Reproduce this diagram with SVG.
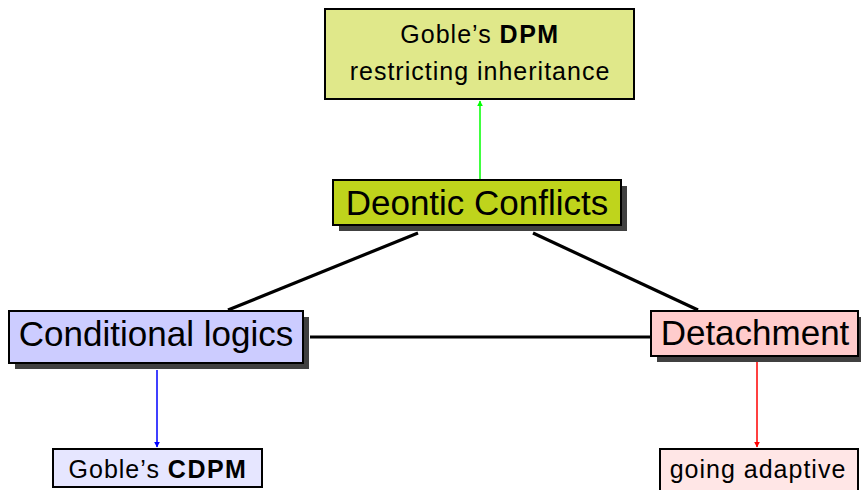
<svg xmlns="http://www.w3.org/2000/svg" width="861" height="490" viewBox="0 0 861 490">
  <style>
    text { font-family: "Liberation Sans", "DejaVu Sans", sans-serif; fill: #000; text-anchor: middle; }
    .box { stroke: #000; stroke-width: 2; }
    .shadow { fill: #404040; }
    .big { font-size: 35px; }
    .small { font-size: 25px; letter-spacing: 1px; }
    .bf { font-weight: bold; letter-spacing: 1.5px; }
    .edge { stroke: #000; stroke-width: 3.2; fill: none; }
  </style>
  <defs>
    <marker id="arrG" viewBox="0 0 10 10" refX="9" refY="5" markerWidth="6" markerHeight="6" orient="auto-start-reverse" markerUnits="userSpaceOnUse"><path d="M0,0 L10,5 L0,10 z" fill="#00ff00"/></marker>
    <marker id="arrB" viewBox="0 0 10 10" refX="9" refY="5" markerWidth="6" markerHeight="6" orient="auto-start-reverse" markerUnits="userSpaceOnUse"><path d="M0,0 L10,5 L0,10 z" fill="#0000ff"/></marker>
    <marker id="arrR" viewBox="0 0 10 10" refX="9" refY="5" markerWidth="6" markerHeight="6" orient="auto-start-reverse" markerUnits="userSpaceOnUse"><path d="M0,0 L10,5 L0,10 z" fill="#ff0000"/></marker>
  </defs>

  <g id="connectors">
    <line class="edge" x1="418" y1="233" x2="228" y2="310"/>
    <line class="edge" x1="533" y1="233" x2="698" y2="310"/>
    <line class="edge" x1="310" y1="337" x2="651" y2="337"/>
    <line x1="480" y1="180" x2="480" y2="101" stroke="#00ff00" stroke-width="1.5" marker-end="url(#arrG)"/>
    <line x1="157" y1="370" x2="157" y2="447" stroke="#0000ff" stroke-width="1.5" marker-end="url(#arrB)"/>
    <line x1="757" y1="362" x2="757" y2="447" stroke="#ff0000" stroke-width="1.5" marker-end="url(#arrR)"/>
  </g>

  <g id="dpm">
    <rect class="box" x="325" y="9" width="309" height="90" fill="#e0e88a"/>
    <text class="small" x="480" y="43">Goble’s <tspan class="bf">DPM</tspan></text>
    <text class="small" x="480" y="80">restricting inheritance</text>
  </g>

  <g id="deontic">
    <rect class="shadow" x="339" y="186" width="288" height="45"/>
    <rect class="box" x="333" y="180" width="288" height="45" fill="#bfd41c"/>
    <text class="big" x="477" y="215">Deontic Conflicts</text>
  </g>

  <g id="conditional">
    <rect class="shadow" x="15" y="317" width="294" height="52"/>
    <rect class="box" x="9" y="311" width="294" height="52" fill="#ccccff"/>
    <text class="big" x="156" y="346">Conditional logics</text>
  </g>

  <g id="detachment">
    <rect class="shadow" x="657" y="317" width="208" height="45"/>
    <rect class="box" x="651" y="311" width="207" height="45" fill="#ffcccc"/>
    <text class="big" x="755" y="345">Detachment</text>
  </g>

  <g id="cdpm">
    <rect class="box" x="53" y="449" width="209" height="38" fill="#e6e6ff"/>
    <text class="small" x="158" y="478">Goble’s <tspan class="bf">CDPM</tspan></text>
  </g>

  <g id="adaptive">
    <rect class="box" x="660" y="449" width="198" height="45" fill="#ffe6e6"/>
    <text class="small" x="758" y="478">going adaptive</text>
  </g>
</svg>
